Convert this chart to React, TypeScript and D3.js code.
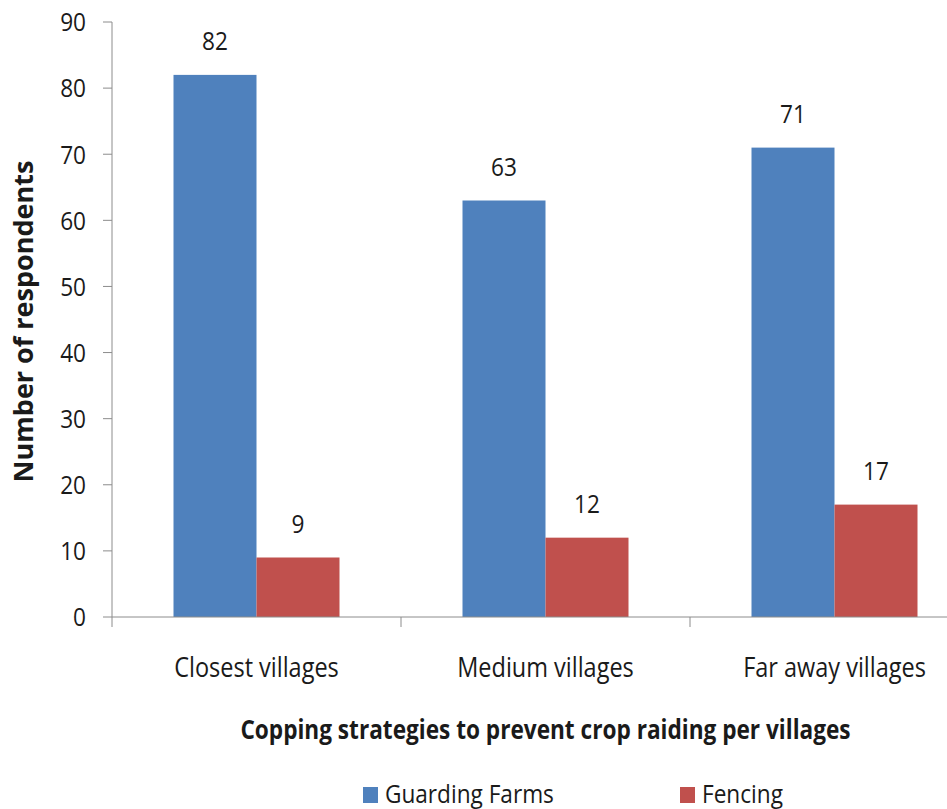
import React from "react";
import * as d3 from "d3";

// Village groups along the x axis
const categories = ["Closest villages", "Medium villages", "Far away villages"];
// Series shown in the legend
const seriesNames = ["Guarding Farms", "Fencing"];
// Respondents per strategy for each village group
const guardingFarms = [82, 63, 71];
const fencing = [9, 12, 17];
// Y-axis ticks
const yTicks = [0, 10, 20, 30, 40, 50, 60, 70, 80, 90];

const seriesValues = [guardingFarms, fencing];
const colors = ["#4F81BD", "#C0504D"];

const W = 947;
const H = 809;
const FONT = "'Open Sans', 'DejaVu Sans', sans-serif";
const SX = 0.87; // horizontal condensing of the labels

const plotLeft = 112;
const step = 289;
const plotTop = 22;
const plotBottom = 617;

function Label({ x, y, anchor = "middle", size = 26, weight = 400, dy = "0", children }: any) {
  return (
    <g transform={`translate(${x},${y}) scale(${SX},1)`}>
      <text
        textAnchor={anchor}
        dy={dy}
        fontFamily={FONT}
        fontSize={size}
        fontWeight={weight}
        fill="#1a1a1a"
      >
        {children}
      </text>
    </g>
  );
}

export default function App() {
  const x0 = d3
    .scaleBand<string>()
    .domain(categories)
    .range([plotLeft, plotLeft + step * categories.length])
    .paddingInner(0.4256)
    .paddingOuter(0.2128);
  const x1 = d3
    .scaleBand<string>()
    .domain(seriesNames)
    .range([0, x0.bandwidth()]);
  const y = d3.scaleLinear().domain([0, 90]).range([plotBottom, plotTop]);

  const boundaries = d3.range(categories.length + 1).map((i) => plotLeft + i * x0.step());
  const axisColor = "#8c8c8c";

  return (
    <svg
      width={W}
      height={H}
      style={{ position: "absolute", left: 0, top: 0, background: "#fff" }}
    >
      <rect x={0} y={0} width={W} height={H} fill="#fff" />

      {/* bars */}
      {categories.map((c, ci) => (
        <g key={c} transform={`translate(${x0(c)},0)`}>
          {seriesNames.map((s, si) => {
            const v = seriesValues[si][ci];
            return (
              <rect
                key={s}
                x={x1(s)}
                y={y(v)}
                width={x1.bandwidth()}
                height={y(0) - y(v)}
                fill={colors[si]}
              />
            );
          })}
        </g>
      ))}

      {/* value labels */}
      {categories.map((c, ci) =>
        seriesNames.map((s, si) => {
          const v = seriesValues[si][ci];
          return (
            <Label
              key={`${c}-${s}`}
              x={(x0(c) as number) + (x1(s) as number) + x1.bandwidth() / 2}
              y={y(v) - 25}
            >
              {v}
            </Label>
          );
        })
      )}

      {/* y axis */}
      <line x1={plotLeft} x2={plotLeft} y1={y(0)} y2={y(90)} stroke={axisColor} strokeWidth={1} />
      {yTicks.map((t) => (
        <g key={t}>
          <line x1={plotLeft - 9} x2={plotLeft} y1={y(t)} y2={y(t)} stroke={axisColor} strokeWidth={1} />
          <Label x={86} y={y(t)} anchor="end" dy="0.36em">
            {t}
          </Label>
        </g>
      ))}

      {/* x axis */}
      <line
        x1={plotLeft}
        x2={boundaries[boundaries.length - 1]}
        y1={y(0)}
        y2={y(0)}
        stroke={axisColor}
        strokeWidth={1}
      />
      {boundaries.map((b) => (
        <line key={b} x1={b} x2={b} y1={y(0)} y2={y(0) + 10} stroke={axisColor} strokeWidth={1} />
      ))}
      {categories.map((c) => (
        <Label key={c} x={(x0(c) as number) + x0.bandwidth() / 2} y={677} size={27}>
          {c}
        </Label>
      ))}

      {/* axis titles */}
      <Label x={(plotLeft + boundaries[boundaries.length - 1]) / 2} y={739} size={26} weight={700}>
        Copping strategies to prevent crop raiding per villages
      </Label>
      <g transform={`translate(33,${(y(0) + y(90)) / 2 + 2}) rotate(-90)`}>
        <text textAnchor="middle" fontFamily={FONT} fontSize={27} fontWeight={700} fill="#1a1a1a">
          Number of respondents
        </text>
      </g>

      {/* legend */}
      {seriesNames.map((s, i) => {
        const lx = [363, 680][i];
        return (
          <g key={s}>
            <rect x={lx} y={787} width={15} height={16} fill={colors[i]} />
            <Label x={lx + 22} y={803} anchor="start" size={26}>
              {s}
            </Label>
          </g>
        );
      })}
    </svg>
  );
}
